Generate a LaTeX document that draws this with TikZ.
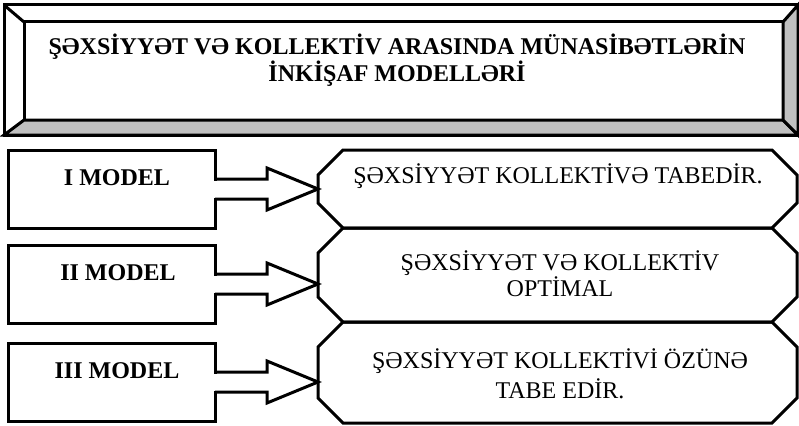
\documentclass[tikz,border=0pt]{standalone}
\usepackage{fontspec}
\setmainfont{Liberation Serif}
\usetikzlibrary{calc}

\definecolor{bevelgray}{RGB}{192,192,192}

% octagon drawn round a named node, corner cut #2
\newcommand{\cutbox}[2]{%
  \draw[outline] ([xshift=#2]#1.north west) -- ([xshift=-#2]#1.north east)
    -- ([yshift=-#2]#1.north east) -- ([yshift=#2]#1.south east)
    -- ([xshift=-#2]#1.south east) -- ([xshift=#2]#1.south west)
    -- ([yshift=#2]#1.south west) -- ([yshift=-#2]#1.north west) -- cycle;}

% open block arrow from box #1 to box #2
\newcommand{\fatarrow}[2]{%
  \fill[white] ([xshift=-3pt,yshift=-8.5pt]#1.east) rectangle ([xshift=3pt,yshift=8.5pt]#1.east);
  \draw[outline] ([yshift=10pt]#1.east) -- ([xshift=52pt,yshift=10pt]#1.east)
    -- ([xshift=52pt,yshift=21pt]#1.east) -- (#1.east -| #2.west)
    -- ([xshift=52pt,yshift=-21pt]#1.east) -- ([xshift=52pt,yshift=-10pt]#1.east)
    -- ([yshift=-10pt]#1.east);}

\begin{document}
\begin{tikzpicture}[
    x=1pt, y=-1pt,
    every node/.style={outer sep=0pt},
    outline/.style={line width=3pt},
    framebox/.style={draw, line width=3pt},
    bevel/.style={fill=bevelgray, draw, line width=3pt},
    modelbox/.style={draw, line width=3pt, minimum width=207pt, minimum height=78pt},
    slot/.style={minimum width=479pt, inner sep=0pt},
    titletext/.style={font=\fontsize{24}{28}\selectfont\bfseries, align=center, anchor=base},
    modeltext/.style={font=\fontsize{24}{28}\selectfont\bfseries, anchor=base},
    resulttext/.style={font=\fontsize{24}{28}\selectfont, align=center, anchor=base}
]
\useasboundingbox (0,0) rectangle (799,425);

% Title frame
\node[framebox, minimum width=794pt, minimum height=130pt] (frame) at (401,70) {};
\node[framebox, minimum width=759pt, minimum height=98pt] (inner) at (403.5,71) {};
\filldraw[bevel] (frame.south west) -- (frame.south east) -- (inner.south east) -- (inner.south west) -- cycle;
\filldraw[bevel] (frame.south east) -- (frame.north east) -- (inner.north east) -- (inner.south east) -- cycle;
\draw[outline] (frame.north west) -- (inner.north west);
\node[titletext] (title) at (397,82) {ŞƏXSİYYƏT VƏ KOLLEKTİV ARASINDA MÜNASİBƏTLƏRİN\\İNKİŞAF MODELLƏRİ};

% Models
\node[modelbox] (m1) at (111.5,189) {};
\node[modelbox] (m2) at (111.5,284) {};
\node[modelbox] (m3) at (111.5,382) {};
\node[modeltext] (t1) at (117,185) {I MODEL};
\node[modeltext] (t2) at (118,280) {II MODEL};
\node[modeltext] (t3) at (117,378) {III MODEL};

% Results
\node[slot, minimum height=78pt] (r1) at (557.5,189) {};
\node[slot, minimum height=94pt] (r2) at (557.5,275) {};
\node[slot, minimum height=101pt] (r3) at (557.5,372.5) {};
\cutbox{r1}{25pt}
\cutbox{r2}{25pt}
\cutbox{r3}{25pt}
\node[resulttext] (s1) at (558,183) {ŞƏXSİYYƏT KOLLEKTİVƏ TABEDİR.};
\node[resulttext] (s2) at (560,296) {ŞƏXSİYYƏT VƏ KOLLEKTİV\\[-2pt]OPTİMAL};
\node[resulttext] (s3) at (560,398) {ŞƏXSİYYƏT KOLLEKTİVİ ÖZÜNƏ\\[2pt]TABE EDİR.};

% Arrows
\fatarrow{m1}{r1}
\fatarrow{m2}{r2}
\fatarrow{m3}{r3}

\end{tikzpicture}
\end{document}
